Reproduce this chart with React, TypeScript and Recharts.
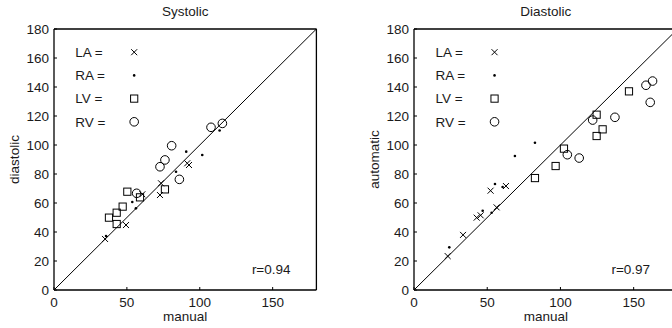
import React from 'react';
import { ScatterChart, Scatter, XAxis, YAxis, ReferenceLine, ReferenceDot, Label } from 'recharts';

const xTicks = [0, 50, 100, 150];
const yTicks = [0, 20, 40, 60, 80, 100, 120, 140, 160, 180];
const domain: [number, number] = [0, 180];

const sysLA = [
  { x: 35.0, y: 35.2 }, { x: 49.4, y: 44.8 }, { x: 60.6, y: 66.0 }, { x: 72.7, y: 65.5 },
  { x: 73.4, y: 73.6 }, { x: 91.4, y: 87.4 }, { x: 92.6, y: 86.2 },
];
const sysRA = [
  { x: 35.7, y: 37.2 }, { x: 53.7, y: 60.7 }, { x: 56.2, y: 56.3 }, { x: 83.7, y: 81.6 },
  { x: 90.7, y: 95.4 }, { x: 101.7, y: 93.1 }, { x: 113.6, y: 110.0 },
];
const sysLV = [
  { x: 37.7, y: 49.9 }, { x: 43.0, y: 45.5 }, { x: 43.0, y: 53.3 }, { x: 47.1, y: 57.5 },
  { x: 50.3, y: 67.8 }, { x: 59.0, y: 63.9 }, { x: 76.1, y: 69.4 },
];
const sysRV = [
  { x: 56.7, y: 66.7 }, { x: 72.7, y: 85.0 }, { x: 76.1, y: 89.7 }, { x: 80.7, y: 99.5 },
  { x: 86.0, y: 76.3 }, { x: 107.7, y: 112.2 }, { x: 115.5, y: 114.9 },
];

const diaLA = [
  { x: 23.0, y: 23.4 }, { x: 33.5, y: 38.0 }, { x: 42.8, y: 49.9 }, { x: 45.5, y: 51.5 },
  { x: 52.3, y: 68.5 }, { x: 56.4, y: 57.0 }, { x: 62.8, y: 71.7 },
];
const diaRA = [
  { x: 24.1, y: 29.4 }, { x: 46.9, y: 54.7 }, { x: 53.0, y: 53.3 }, { x: 55.3, y: 73.1 },
  { x: 60.5, y: 71.0 }, { x: 68.9, y: 92.4 }, { x: 82.6, y: 101.6 },
];
const diaLV = [
  { x: 82.6, y: 77.2 }, { x: 96.7, y: 85.5 }, { x: 102.4, y: 97.5 }, { x: 124.7, y: 120.9 },
  { x: 124.7, y: 106.2 }, { x: 128.8, y: 110.8 }, { x: 146.8, y: 137.0 },
];
const diaRV = [
  { x: 104.7, y: 93.3 }, { x: 112.8, y: 91.0 }, { x: 122.0, y: 117.2 }, { x: 137.2, y: 119.1 },
  { x: 158.4, y: 141.2 }, { x: 162.9, y: 144.1 }, { x: 161.3, y: 129.4 },
];

const legendRows = [
  { x: 55, y: 164, label: 'LA =', kind: 'x' },
  { x: 55, y: 148, label: 'RA =', kind: 'dot' },
  { x: 55, y: 132, label: 'LV =', kind: 'square' },
  { x: 55, y: 116, label: 'RV =', kind: 'circle' },
];

const FONT = '"Liberation Sans", Arial, Helvetica, sans-serif';
const FS = 13.5;
const INK = '#1a1a1a';

function drawMarker(kind: string, cx: number, cy: number) {
  if (kind === 'x') {
    const h = 3;
    return (
      <g stroke="#000" strokeWidth={1}>
        <line x1={cx - h} y1={cy - h} x2={cx + h} y2={cy + h} />
        <line x1={cx - h} y1={cy + h} x2={cx + h} y2={cy - h} />
      </g>
    );
  }
  if (kind === 'dot') return <circle cx={cx} cy={cy} r={1.3} fill="#000" />;
  if (kind === 'square') {
    const h = 3.6;
    return <rect x={cx - h} y={cy - h} width={2 * h} height={2 * h} fill="none" stroke="#000" strokeWidth={1} />;
  }
  return <circle cx={cx} cy={cy} r={4.3} fill="none" stroke="#000" strokeWidth={1} />;
}

const makeShape = (kind: string) => (p: any) => <g>{drawMarker(kind, p.cx, p.cy)}</g>;

const legendShape = (p: any) => {
  const row = p.payload;
  return (
    <g>
      <text x={p.cx - 59} y={p.cy} dy="0.36em" fontFamily={FONT} fontSize={FS} fill={INK}>{row.label}</text>
      {drawMarker(row.kind, p.cx, p.cy)}
    </g>
  );
};

type PanelProps = {
  title: string;
  yLabel: string;
  rText: string;
  rX: number;
  la: any[]; ra: any[]; lv: any[]; rv: any[];
  width: number;
  marginLeft: number;
  marginRight: number;
  left: number;
};

function Panel(props: PanelProps) {
  const { title, yLabel, rText, rX, la, ra, lv, rv, width, marginLeft, marginRight, left } = props;
  const tickStyle = { fontFamily: FONT, fontSize: FS, fill: INK };
  const axisLine = { stroke: '#000', strokeWidth: 1.3 };
  const tickLine = { stroke: '#000', strokeWidth: 1 };
  return (
    <div style={{ position: 'absolute', left, top: 0 }}>
      <ScatterChart width={width} height={328} margin={{ top: 28, right: marginRight, bottom: 4, left: marginLeft }}>
        <XAxis xAxisId={0} type="number" dataKey="x" domain={domain} ticks={xTicks} allowDataOverflow
          height={34} tickSize={-3} tickMargin={10} tick={tickStyle} axisLine={axisLine} tickLine={tickLine}>
          <Label value="manual" position="insideBottom" offset={3} style={{ fontFamily: FONT, fontSize: FS, fill: INK }} />
        </XAxis>
        <XAxis xAxisId="top" orientation="top" type="number" domain={domain} ticks={xTicks} allowDataOverflow
          height={1} tickSize={-3} tick={false} axisLine={axisLine} tickLine={tickLine}>
          <Label value={title} position="top" offset={12} style={{ fontFamily: FONT, fontSize: FS, fill: INK }} />
        </XAxis>
        <YAxis yAxisId={0} type="number" dataKey="y" domain={domain} ticks={yTicks} allowDataOverflow
          width={40} tickSize={-3} tickMargin={8} tick={tickStyle} axisLine={axisLine} tickLine={tickLine}>
          <Label value={yLabel} angle={-90} position="insideLeft" offset={0}
            style={{ fontFamily: FONT, fontSize: FS, fill: INK, textAnchor: 'middle' }} />
        </YAxis>
        <YAxis yAxisId="right" orientation="right" type="number" domain={domain} ticks={yTicks} allowDataOverflow
          width={1} tickSize={-3} tick={false} axisLine={axisLine} tickLine={tickLine} />
        <ReferenceLine xAxisId={0} yAxisId={0} segment={[{ x: 0, y: 0 }, { x: 180, y: 180 }]} stroke="#000" strokeWidth={1} ifOverflow="visible" />
        <Scatter xAxisId={0} yAxisId={0} data={la} shape={makeShape('x')} isAnimationActive={false} />
        <Scatter xAxisId={0} yAxisId={0} data={ra} shape={makeShape('dot')} isAnimationActive={false} />
        <Scatter xAxisId={0} yAxisId={0} data={lv} shape={makeShape('square')} isAnimationActive={false} />
        <Scatter xAxisId={0} yAxisId={0} data={rv} shape={makeShape('circle')} isAnimationActive={false} />
        <Scatter xAxisId={0} yAxisId={0} data={legendRows} shape={legendShape} isAnimationActive={false} />
        <ReferenceDot xAxisId={0} yAxisId={0} x={rX} y={14} r={0} fill="none" stroke="none"
          label={{ value: rText, position: 'center', style: { fontFamily: FONT, fontSize: FS, fill: INK } }} />
      </ScatterChart>
    </div>
  );
}

export default function App() {
  return (
    <div style={{ position: 'absolute', left: 0, top: 0, width: 672, height: 328, overflow: 'hidden', background: '#fff' }}>
      <Panel title="Systolic" yLabel="diastolic" rText="r=0.94" rX={149}
        la={sysLA} ra={sysRA} lv={sysLV} rv={sysRV}
        width={336} marginLeft={14} marginRight={18.6} left={0} />
      <Panel title="Diastolic" yLabel="automatic" rText="r=0.97" rX={148}
        la={diaLA} ra={diaRA} lv={diaLV} rv={diaRV}
        width={360} marginLeft={38} marginRight={17.4} left={336} />
    </div>
  );
}
